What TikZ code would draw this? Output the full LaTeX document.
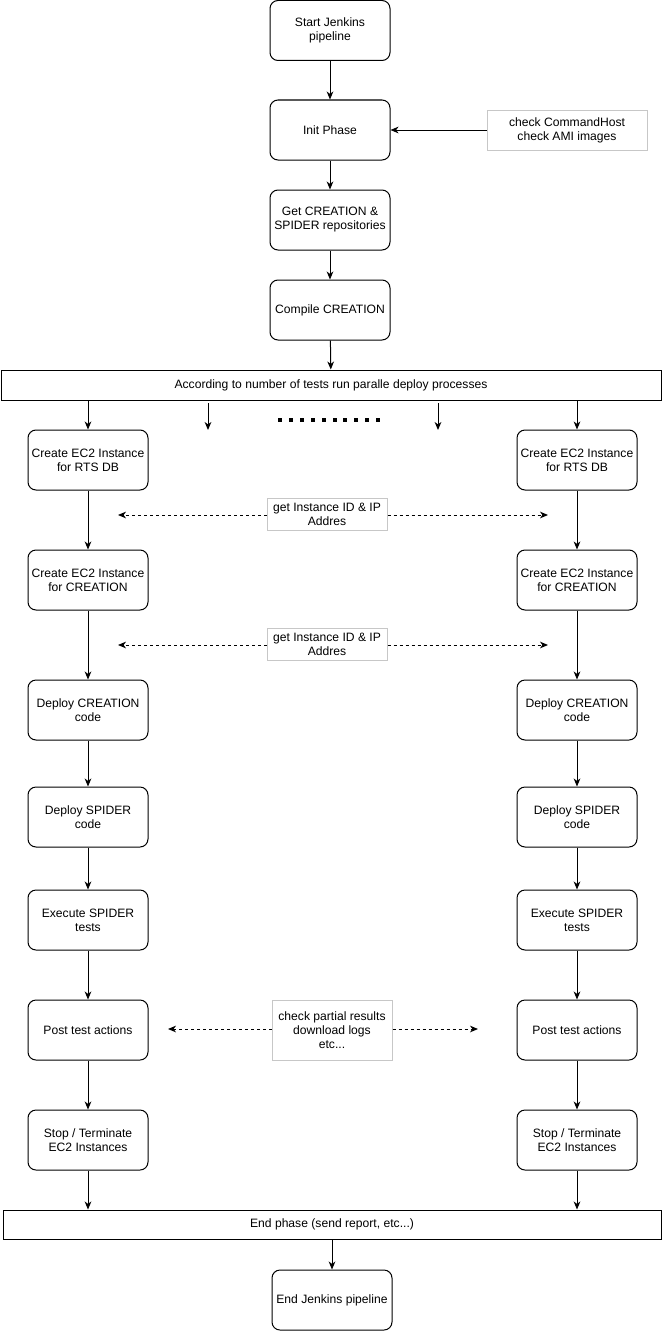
\documentclass[tikz,border=0pt]{standalone}
\usepackage{fontspec}
\setmainfont{Liberation Sans}
\usepackage{tikz}
\usetikzlibrary{arrows.meta}
\newcommand{\boxfont}{\fontsize{9.1pt}{10.5pt}\selectfont}

\tikzset{
    stepbox/.style={draw,line width=0.75pt,rounded corners=6pt,minimum width=90pt,minimum height=45pt,align=center,inner sep=1pt,font=\boxfont},
    barbox/.style={draw,line width=0.75pt,minimum height=22.5pt,align=center,font=\boxfont},
    notebox/.style={draw=black!22,fill=white,line width=0.75pt,align=center,inner sep=1pt,font=\boxfont},
    flow/.style={-{Stealth[length=6pt,width=5pt,inset=1.8pt]},line width=0.75pt},
    infoflow/.style={flow,dash pattern=on 2.25pt off 2.25pt},
}

\begin{document}
\begin{tikzpicture}[x=0.75pt,y=-0.75pt]
    \useasboundingbox (0,0) rectangle (663,1331);

    \node[stepbox] (start) at (330,30.5) {Start Jenkins\\pipeline};
    \node[stepbox] (init) at (330,130) {Init Phase};
    \node[notebox,minimum width=120pt,minimum height=30pt] (chk) at (567,130) {check CommandHost\\check AMI images};
    \node[stepbox] (repos) at (330,220) {Get CREATION \&\\SPIDER repositories};
    \node[stepbox] (compile) at (330,310) {Compile CREATION};
    \node[barbox,minimum width=495pt] (par) at (331,385) {According to number of tests run paralle deploy processes};

    \draw[flow] (start) -- (init);
    \draw[flow] (chk) -- (init);
    \draw[flow] (init) -- (repos);
    \draw[flow] (repos) -- (compile);
    \draw[flow] (compile) -- (par);

    % left column
    \node[stepbox] (lrts) at (88,460) {Create EC2 Instance\\for RTS DB};
    \node[stepbox] (lcre) at (88,580) {Create EC2 Instance\\for CREATION};
    \node[stepbox] (ldepc) at (88,710) {Deploy CREATION\\code};
    \node[stepbox] (ldeps) at (88,817) {Deploy SPIDER\\code};
    \node[stepbox] (lexec) at (88,920) {Execute SPIDER\\tests};
    \node[stepbox] (lpost) at (88,1030) {Post test actions};
    \node[stepbox] (lstop) at (88,1140) {Stop / Terminate\\EC2 Instances};

    % right column
    \node[stepbox] (rrts) at (577,460) {Create EC2 Instance\\for RTS DB};
    \node[stepbox] (rcre) at (577,580) {Create EC2 Instance\\for CREATION};
    \node[stepbox] (rdepc) at (577,710) {Deploy CREATION\\code};
    \node[stepbox] (rdeps) at (577,817) {Deploy SPIDER\\code};
    \node[stepbox] (rexec) at (577,920) {Execute SPIDER\\tests};
    \node[stepbox] (rpost) at (577,1030) {Post test actions};
    \node[stepbox] (rstop) at (577,1140) {Stop / Terminate\\EC2 Instances};

    \draw[flow] (par.south -| lrts) -- (lrts);
    \draw[flow] (par.south -| rrts) -- (rrts);
    \coordinate (fa1) at (208,403);
    \coordinate (fb1) at (208,430);
    \coordinate (fa2) at (438,403);
    \coordinate (fb2) at (438,430);
    \draw[flow] (fa1) -- (fb1);
    \draw[flow] (fa2) -- (fb2);
    \foreach \i in {0,...,9}
        \fill (278+\i*10.9,418) rectangle ++(4,4);

    \draw[flow] (lrts) -- (lcre);
    \draw[flow] (lcre) -- (ldepc);
    \draw[flow] (ldepc) -- (ldeps);
    \draw[flow] (ldeps) -- (lexec);
    \draw[flow] (lexec) -- (lpost);
    \draw[flow] (lpost) -- (lstop);
    \draw[flow] (rrts) -- (rcre);
    \draw[flow] (rcre) -- (rdepc);
    \draw[flow] (rdepc) -- (rdeps);
    \draw[flow] (rdeps) -- (rexec);
    \draw[flow] (rexec) -- (rpost);
    \draw[flow] (rpost) -- (rstop);

    % shared info between the columns
    \node[notebox,minimum width=90pt,minimum height=24pt] (info1) at (327,514) {get Instance ID \& IP\\Addres};
    \node[notebox,minimum width=90pt,minimum height=24pt] (info2) at (327,644) {get Instance ID \& IP\\Addres};
    \node[notebox,minimum width=90pt,minimum height=45pt] (info3) at (332,1030) {check partial results\\download logs\\etc...};
    \coordinate (il1) at (118,515);
    \coordinate (ir1) at (548,515);
    \coordinate (il2) at (118,645);
    \coordinate (ir2) at (548,645);
    \coordinate (il3) at (168,1029);
    \coordinate (ir3) at (478,1029);
    \draw[infoflow] (info1.west |- il1) -- (il1);
    \draw[infoflow] (info1.east |- ir1) -- (ir1);
    \draw[infoflow] (info2.west |- il2) -- (il2);
    \draw[infoflow] (info2.east |- ir2) -- (ir2);
    \draw[infoflow] (info3.west |- il3) -- (il3);
    \draw[infoflow] (info3.east |- ir3) -- (ir3);

    \node[barbox,minimum width=493.5pt,minimum height=21.75pt] (endbar) at (332,1224.5) {End phase (send report, etc...)};
    \node[stepbox] (stop) at (332,1300) {End Jenkins pipeline};

    \draw[flow] (lstop) -- (endbar.north -| lstop);
    \draw[flow] (rstop) -- (endbar.north -| rstop);
    \draw[flow] (endbar) -- (stop);
\end{tikzpicture}
\end{document}
